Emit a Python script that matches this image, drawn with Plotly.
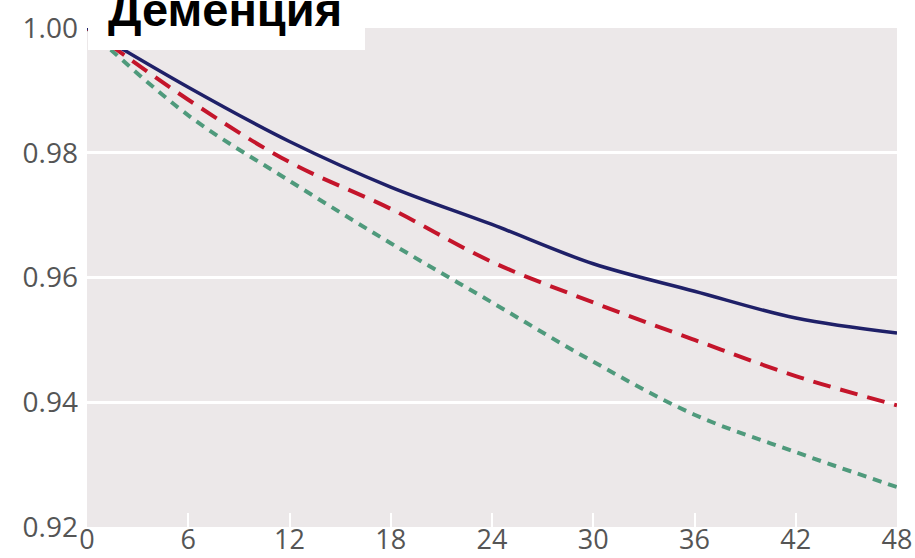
import plotly.graph_objects as go

months = [0, 6, 12, 18, 24, 30, 36, 42, 48]
series_solid = [1.000, 0.9905, 0.9818, 0.9745, 0.9685, 0.9622, 0.9578, 0.9535, 0.9511]
series_dash = [1.000, 0.9885, 0.9785, 0.9710, 0.9625, 0.9560, 0.9500, 0.9442, 0.9395]
series_dot = [1.000, 0.9860, 0.9755, 0.9655, 0.9560, 0.9465, 0.9380, 0.9320, 0.9264]
x_ticks = [0, 6, 12, 18, 24, 30, 36, 42, 48]
y_ticks = [0.92, 0.94, 0.96, 0.98, 1.00]
y_labels = ["0.92", "0.94", "0.96", "0.98", "1.00"]
title_text = "Деменция"

W, H = 915, 558
ML, MR, MT, MB = 87, 18, 28, 31
PW, PH = W - ML - MR, H - MT - MB

fig = go.Figure()
fig.add_trace(go.Scatter(x=months, y=series_dot, mode="lines", line_shape="spline",
                         line=dict(color="#4f9a7c", width=4, dash="9px,7px"), showlegend=False))
fig.add_trace(go.Scatter(x=months, y=series_dash, mode="lines", line_shape="spline",
                         line=dict(color="#c4152b", width=4, dash="18px,10px"), showlegend=False))
fig.add_trace(go.Scatter(x=months, y=series_solid, mode="lines", line_shape="spline",
                         line=dict(color="#1f2068", width=3.5), showlegend=False))

fig.update_layout(
    width=W, height=H,
    margin=dict(l=ML, r=MR, t=MT, b=MB),
    paper_bgcolor="white",
    plot_bgcolor="#ece8e9",
    font=dict(family="Open Sans, Roboto, sans-serif", size=27, color="#555555"),
)
fig.update_xaxes(range=[0, 48], tickvals=x_ticks, ticktext=[str(v) for v in x_ticks],
                 showgrid=False, zeroline=False, showline=False, automargin=False,
                 ticks="inside", ticklen=14, tickwidth=2, tickcolor="white",
                 ticklabelstandoff=-6,
                 tickfont=dict(size=27, color="#555555"))
fig.update_yaxes(range=[0.92, 1.0], tickvals=y_ticks, ticktext=y_labels,
                 showgrid=True, gridcolor="white", gridwidth=3, zeroline=False, showline=False,
                 ticks="", ticklabelstandoff=8, automargin=False,
                 tickfont=dict(size=28, color="#555555"))

fig.add_shape(type="rect", xref="paper", yref="paper", x0=1 / PW, x1=(365 - ML) / PW,
              y0=1 - (50 - MT) / PH, y1=1.2, fillcolor="white", line=dict(width=0), layer="above")
fig.add_annotation(text="<b>" + title_text + "</b>", xref="paper", yref="paper",
                   x=(106 - ML) / PW, y=1 - (38 - MT) / PH, xanchor="left", yanchor="bottom",
                   showarrow=False, font=dict(family="Liberation Sans, Arial, sans-serif", size=47, color="black"))

fig.write_html("out.html", config={"displayModeBar": False},
               post_script="document.body.style.margin='0';document.body.style.overflow='hidden';")
